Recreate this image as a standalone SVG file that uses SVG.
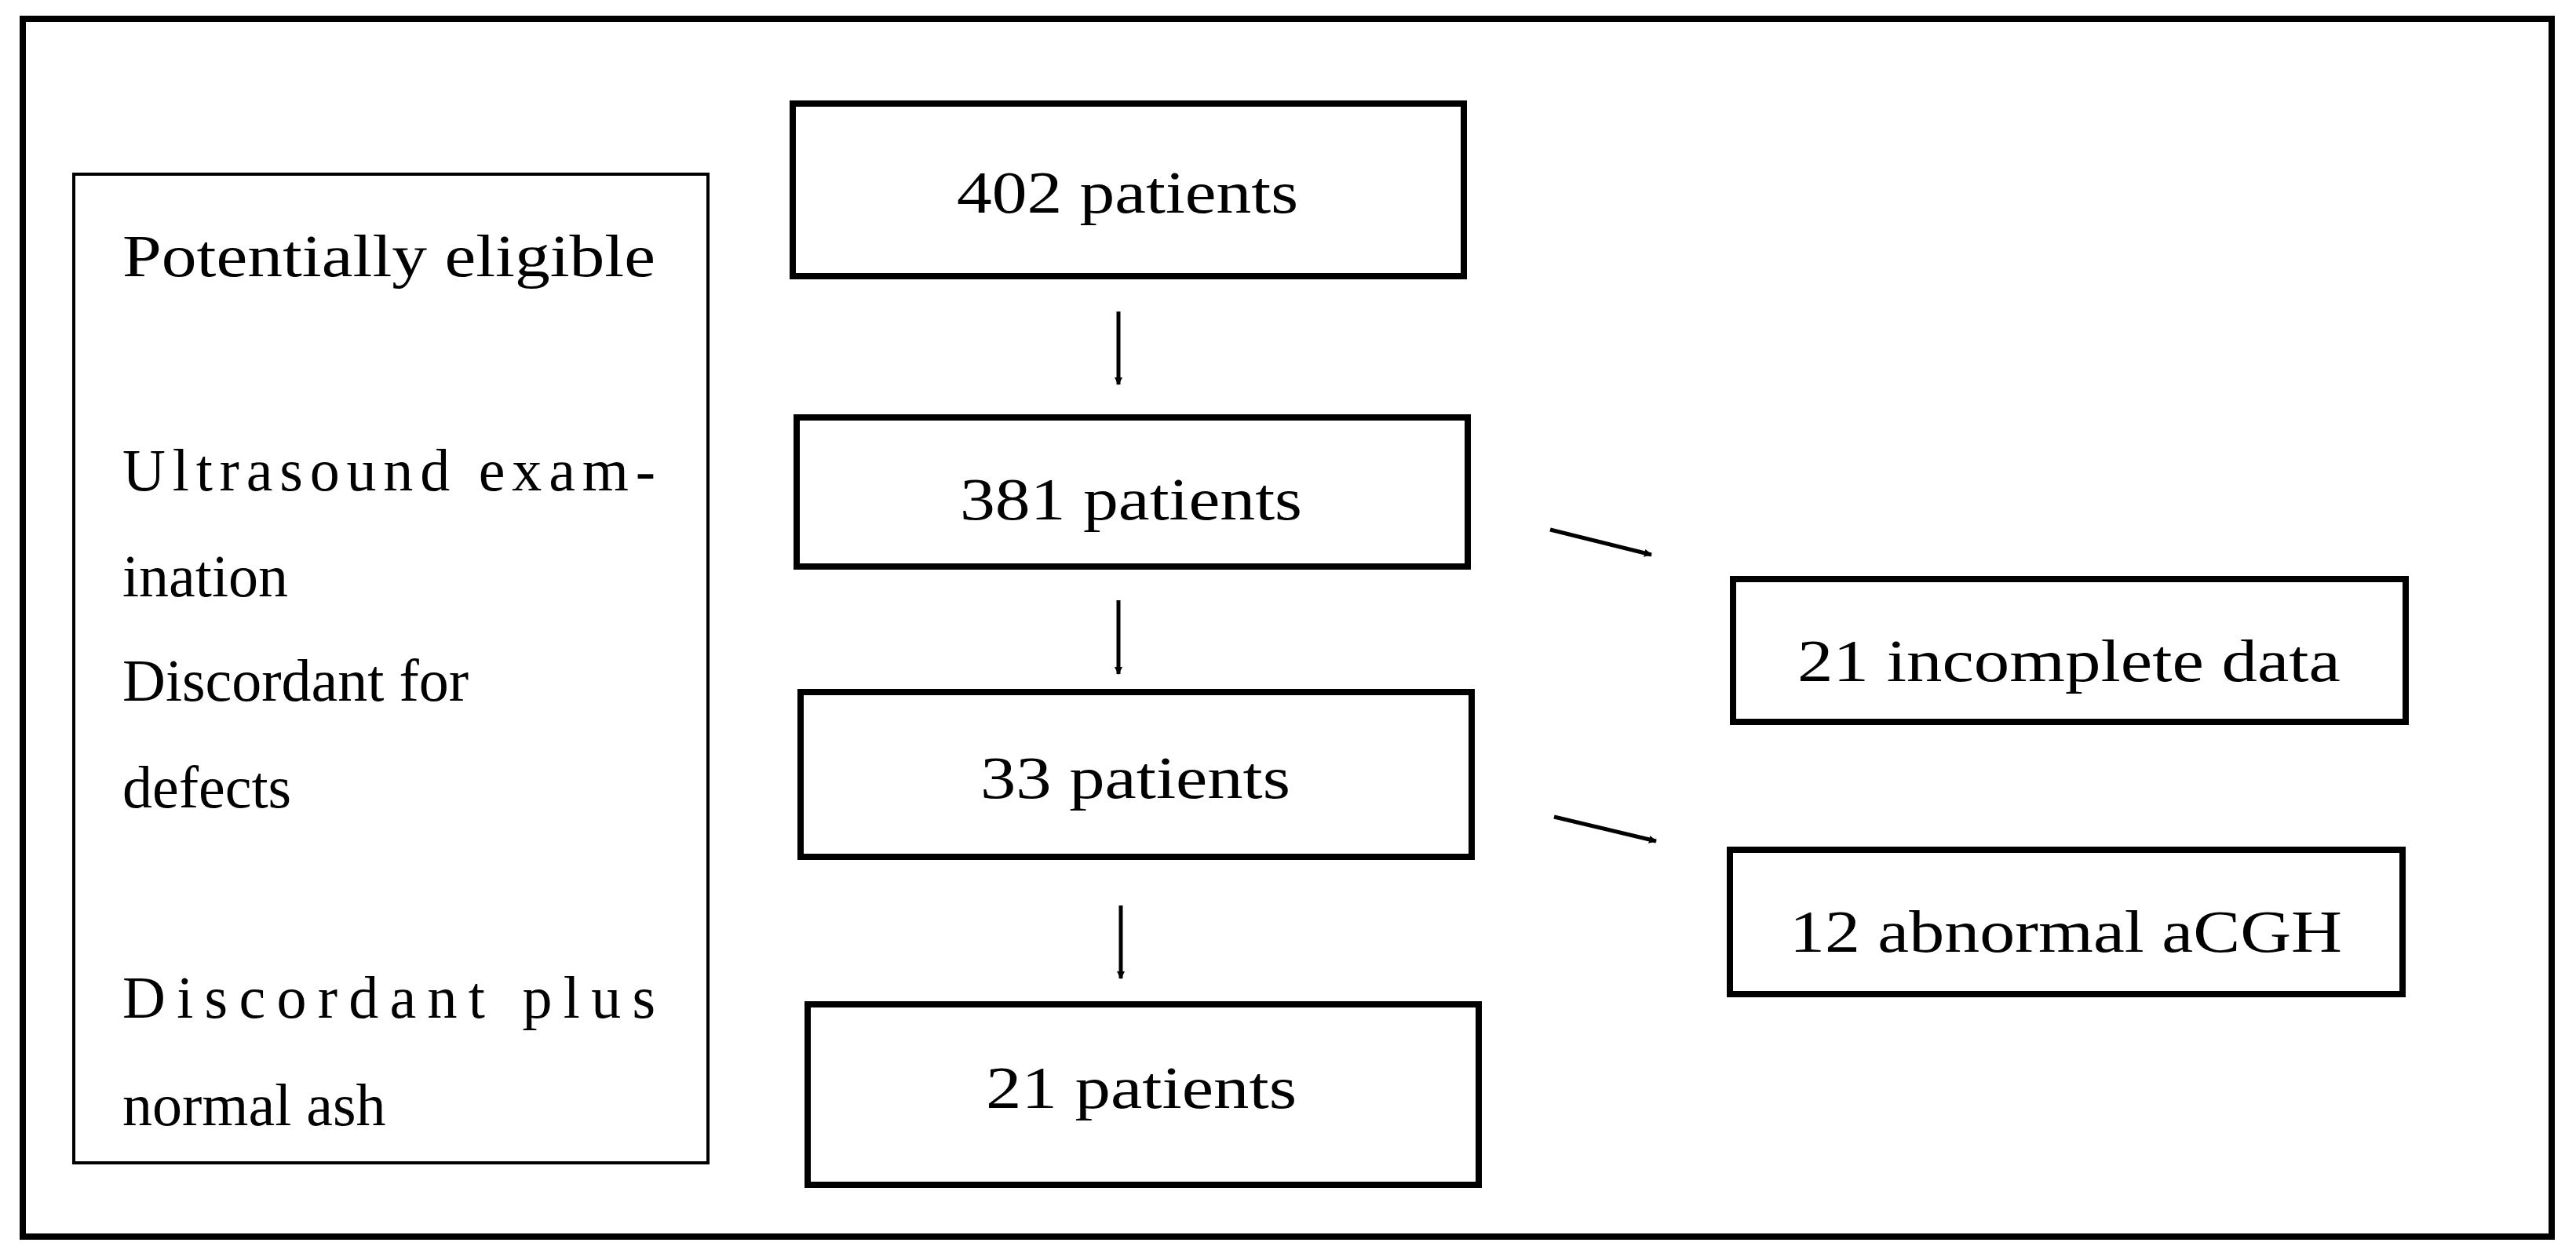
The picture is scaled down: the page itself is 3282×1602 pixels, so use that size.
<svg xmlns="http://www.w3.org/2000/svg" width="3282" height="1602" viewBox="0 0 3282 1602">
<style>
.b{fill:none;stroke:#000;stroke-width:8}
.t{font-family:"Liberation Serif",serif;font-size:76px;fill:#000}
.c{stroke:#000;stroke-width:5;fill:none}
</style>
<defs><marker id="a" markerWidth="10" markerHeight="10" refX="9" refY="5" orient="auto" markerUnits="userSpaceOnUse" viewBox="0 0 10 10"><path d="M0,0L10,5L0,10z"/></marker></defs>
<rect width="3282" height="1602" fill="#fff"/>
<rect x="29" y="24" width="3222" height="1552" class="b"/>
<g id="legend">
<rect x="94" y="222" width="808" height="1260" fill="none" stroke="#000" stroke-width="4"/>
<text class="t" x="156" y="352" textLength="679" lengthAdjust="spacingAndGlyphs">Potentially eligible</text>
<text class="t" x="156" y="625" textLength="679" lengthAdjust="spacing">Ultrasound exam-</text>
<text class="t" x="156" y="760">ination</text>
<text class="t" x="156" y="893">Discordant for</text>
<text class="t" x="156" y="1029">defects</text>
<text class="t" x="156" y="1297" textLength="679" lengthAdjust="spacing">Discordant plus</text>
<text class="t" x="156" y="1434">normal ash</text>
</g>
<g id="n402"><rect x="1010" y="132" width="855" height="220" class="b"/><text class="t" x="1219" y="271" textLength="435" lengthAdjust="spacingAndGlyphs">402 patients</text></g>
<g id="n381"><rect x="1015" y="532" width="855" height="190" class="b"/><text class="t" x="1223" y="662" textLength="436" lengthAdjust="spacingAndGlyphs">381 patients</text></g>
<g id="n33"><rect x="1020" y="882" width="855" height="210" class="b"/><text class="t" x="1249" y="1017" textLength="395" lengthAdjust="spacingAndGlyphs">33 patients</text></g>
<g id="n21"><rect x="1029" y="1280" width="855" height="230" class="b"/><text class="t" x="1256" y="1412" textLength="396" lengthAdjust="spacingAndGlyphs">21 patients</text></g>
<g id="ninc"><rect x="2208" y="738" width="857" height="182" class="b"/><text class="t" x="2290" y="868" textLength="692" lengthAdjust="spacingAndGlyphs">21 incomplete data</text></g>
<g id="nab"><rect x="2204" y="1083" width="857" height="184" class="b"/><text class="t" x="2280" y="1213" textLength="704" lengthAdjust="spacingAndGlyphs">12 abnormal aCGH</text></g>
<g id="connectors">
<line x1="1425" y1="397" x2="1425" y2="490" class="c" marker-end="url(#a)" style="--m:0"/>
<line x1="1425" y1="765" x2="1425" y2="859" class="c" marker-end="url(#a)"/>
<line x1="1428" y1="1154" x2="1428" y2="1247" class="c" marker-end="url(#a)"/>
<line x1="1975" y1="675" x2="2104" y2="707" class="c" marker-end="url(#a)"/>
<line x1="1980" y1="1041" x2="2110" y2="1072" class="c" marker-end="url(#a)"/>
</g>
<defs><marker id="unused"/></defs>
</svg>
